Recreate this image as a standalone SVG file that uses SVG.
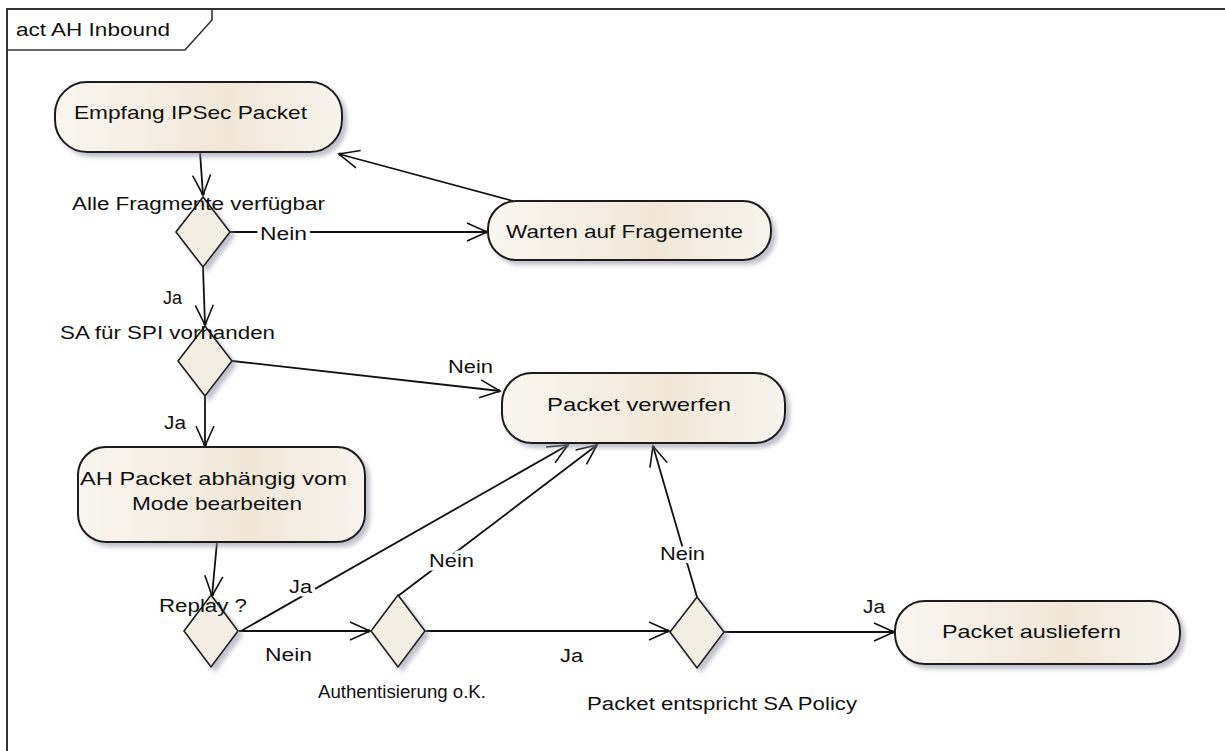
<svg xmlns="http://www.w3.org/2000/svg" width="1225" height="751" viewBox="0 0 1225 751">
<style>
  text { font-family: "Liberation Sans", Arial, sans-serif; fill: #111; }
  .nt { font-size: 19px; }
  .lb { font-size: 18px; }
  .halo { stroke: #fff; stroke-width: 7px; paint-order: stroke; stroke-linejoin: round; }
  .node { fill: url(#cream); stroke: #1a1a1a; stroke-width: 2; filter: url(#shadow); }
  .dec { fill: #f3eee4; stroke: #1a1a1a; stroke-width: 1.6; filter: url(#shadow); }
  .edge { fill: none; stroke: #111; stroke-width: 1.8; marker-end: url(#open); }
</style>
<defs>
  <linearGradient id="cream" x1="0" y1="0" x2="1" y2="0">
    <stop offset="0" stop-color="#f9f6f1"/>
    <stop offset="0.6" stop-color="#f0e7d7"/>
    <stop offset="1" stop-color="#f7f4ee"/>
  </linearGradient>
  <filter id="shadow" x="-10%" y="-10%" width="130%" height="140%">
    <feDropShadow dx="4" dy="4" stdDeviation="2" flood-color="#8e8ea0" flood-opacity="0.55"/>
  </filter>
  <marker id="open" viewBox="-22 -11 24 22" refX="0" refY="0" markerWidth="24" markerHeight="22" markerUnits="userSpaceOnUse" orient="auto">
    <path d="M-20,-9 L0,0 L-20,9" fill="none" stroke="#111" stroke-width="1.6"/>
    <circle cx="-1.5" cy="0" r="1.8" fill="#111"/>
  </marker>
</defs>
<rect width="1225" height="751" fill="#fff"/>
<g id="frame">
  <path d="M7,751 L7,9 L1225,9" fill="none" stroke="#333" stroke-width="2"/>
  <path d="M7,50 L185,50 L212,20 L212,9" fill="none" stroke="#333" stroke-width="1.6"/>
  <text x="16" y="36" font-size="18" textLength="154" lengthAdjust="spacingAndGlyphs">act AH Inbound</text>
</g>
<g id="connectors">
  <path class="edge" d="M200,152 L203,195"/>
  <path class="edge" d="M230,232 L487,232"/>
  <path class="edge" d="M513,201 L339,154"/>
  <path class="edge" d="M203,267 L205,325"/>
  <path class="edge" d="M232,361 L500,391"/>
  <path class="edge" d="M205,396 L205,446"/>
  <path class="edge" d="M217,542 L212,596"/>
  <path class="edge" d="M239,631 L370,631"/>
  <path class="edge" d="M241,631 L568,445"/>
  <path class="edge" d="M398,596 L597,445"/>
  <path class="edge" d="M425,631 L669,631"/>
  <path class="edge" d="M697,597 L653,446"/>
  <path class="edge" d="M724,632 L894,632"/>
  <text class="lb halo" x="260" y="240" textLength="47" lengthAdjust="spacingAndGlyphs">Nein</text>
  <text class="lb" x="163" y="304" textLength="19" lengthAdjust="spacingAndGlyphs">Ja</text>
  <text class="lb" x="448" y="373" textLength="45" lengthAdjust="spacingAndGlyphs">Nein</text>
  <text class="lb" x="164" y="429" textLength="22" lengthAdjust="spacingAndGlyphs">Ja</text>
  <text class="lb halo" x="289" y="593" textLength="23" lengthAdjust="spacingAndGlyphs">Ja</text>
  <text class="lb" x="265" y="661" textLength="47" lengthAdjust="spacingAndGlyphs">Nein</text>
  <text class="lb halo" x="429" y="567" textLength="45" lengthAdjust="spacingAndGlyphs">Nein</text>
  <text class="lb" x="560" y="662" textLength="23" lengthAdjust="spacingAndGlyphs">Ja</text>
  <text class="lb halo" x="660" y="560" textLength="45" lengthAdjust="spacingAndGlyphs">Nein</text>
  <text class="lb" x="863" y="613" textLength="22" lengthAdjust="spacingAndGlyphs">Ja</text>
</g>
<g id="empfang">
  <rect class="node" x="55" y="82" width="287" height="70" rx="32" ry="32"/>
  <text class="nt" x="74" y="119" textLength="233" lengthAdjust="spacingAndGlyphs">Empfang IPSec Packet</text>
</g>
<g id="warten">
  <rect class="node" x="488" y="201" width="283" height="59" rx="28" ry="28"/>
  <text class="nt" x="506" y="238" textLength="237" lengthAdjust="spacingAndGlyphs">Warten auf Fragemente</text>
</g>
<g id="verwerfen">
  <rect class="node" x="502" y="373" width="283" height="70" rx="30" ry="30"/>
  <text class="nt" x="547" y="411" textLength="184" lengthAdjust="spacingAndGlyphs">Packet verwerfen</text>
</g>
<g id="bearbeiten">
  <rect class="node" x="78" y="447" width="287" height="95" rx="28" ry="28"/>
  <text class="nt" x="80" y="485" textLength="267" lengthAdjust="spacingAndGlyphs">AH Packet abhängig vom</text>
  <text class="nt" x="132" y="510" textLength="170" lengthAdjust="spacingAndGlyphs">Mode bearbeiten</text>
</g>
<g id="ausliefern">
  <rect class="node" x="895" y="601" width="285" height="63" rx="30" ry="30"/>
  <text class="nt" x="942" y="638" textLength="179" lengthAdjust="spacingAndGlyphs">Packet ausliefern</text>
</g>
<g id="d-fragmente">
  <polygon class="dec" points="203,197 230,232 203,267 176,232"/>
  <text class="lb" x="72" y="210" textLength="253" lengthAdjust="spacingAndGlyphs">Alle Fragmente verfügbar</text>
</g>
<g id="d-spi">
  <polygon class="dec" points="205,326 232,361 205,396 178,361"/>
  <text class="lb" x="60" y="339" textLength="215" lengthAdjust="spacingAndGlyphs">SA für SPI vorhanden</text>
</g>
<g id="d-replay">
  <polygon class="dec" points="211,595 238,631 211,667 184,631"/>
  <text class="lb" x="159" y="612" textLength="88" lengthAdjust="spacingAndGlyphs">Replay ?</text>
</g>
<g id="d-auth">
  <polygon class="dec" points="398,595 425,631 398,667 371,631"/>
  <text class="lb" x="318" y="698" textLength="168" lengthAdjust="spacingAndGlyphs">Authentisierung o.K.</text>
</g>
<g id="d-policy">
  <polygon class="dec" points="697,597 724,632 697,668 670,632"/>
  <text class="lb" x="587" y="710" textLength="270" lengthAdjust="spacingAndGlyphs">Packet entspricht SA Policy</text>
</g>
</svg>
